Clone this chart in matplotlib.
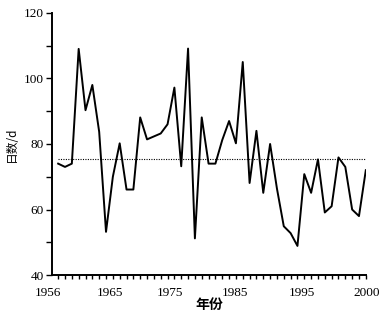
import numpy as np
import matplotlib
matplotlib.use("Agg")
import matplotlib.pyplot as plt

# 日数 per year (left to right)
days = [74, 73, 74, 109, 90.3, 98, 83.7, 53.2, 70, 80.2,
        66.1, 66.1, 88.1, 81.4, 82.3, 83.2, 86, 97.2, 73.2, 109.1,
        51.2, 88.1, 74, 74, 81.2, 87, 80.2, 105, 68.1, 84,
        65.1, 80, 66.4, 54.9, 52.8, 48.9, 70.8, 65.1, 75.3, 59.1,
        61, 75.9, 73, 60, 58, 72]
mean_days = 75.5

year_labels = ["1956", "1965", "1975", "1985", "1995", "2000"]
label_pos = [-1.43, 7.56, 16.3, 25.8, 35.6, 45.1]

idx = np.arange(len(days))

plt.rcParams["font.family"] = ["Liberation Serif", "Noto Sans CJK SC"]

fig = plt.figure(figsize=(3.9, 3.21), dpi=100)
ax = fig.add_axes([0.133, 0.143, 0.805, 0.817])

ax.plot(idx, days, color="black", lw=1.4)
ax.hlines(mean_days, idx[0], idx[-1], colors="black", linestyles=(0, (1, 1.2)), lw=0.8)

ax.set_xlim(-0.92, idx[-1])
ax.set_ylim(40, 120)

ax.spines["top"].set_visible(False)
ax.spines["right"].set_visible(False)
ax.spines["left"].set_linewidth(1.4)
ax.spines["bottom"].set_linewidth(1.4)

ax.set_xticks(idx)
ax.set_xticklabels([])
ax.tick_params(axis="x", direction="out", length=3, width=1)
ax.set_yticks([40, 60, 80, 100, 120])
ax.set_yticks([50, 70, 90, 110], minor=True)
ax.tick_params(axis="y", which="both", direction="out", length=4, width=1,
               labelsize=9.5, pad=2)

for lab, p in zip(year_labels, label_pos):
    ax.text(p, -0.07, lab, transform=ax.get_xaxis_transform(),
            ha="center", va="center", fontsize=9.5, clip_on=False)

ax.set_xlabel("年份", family=["Noto Sans CJK SC"], fontsize=10, fontweight="bold", labelpad=10)
ax.set_ylabel("日数/d", family=["Noto Sans CJK SC", "DejaVu Sans"], fontsize=8.5, labelpad=4)

fig.savefig("out.png", dpi=100)
